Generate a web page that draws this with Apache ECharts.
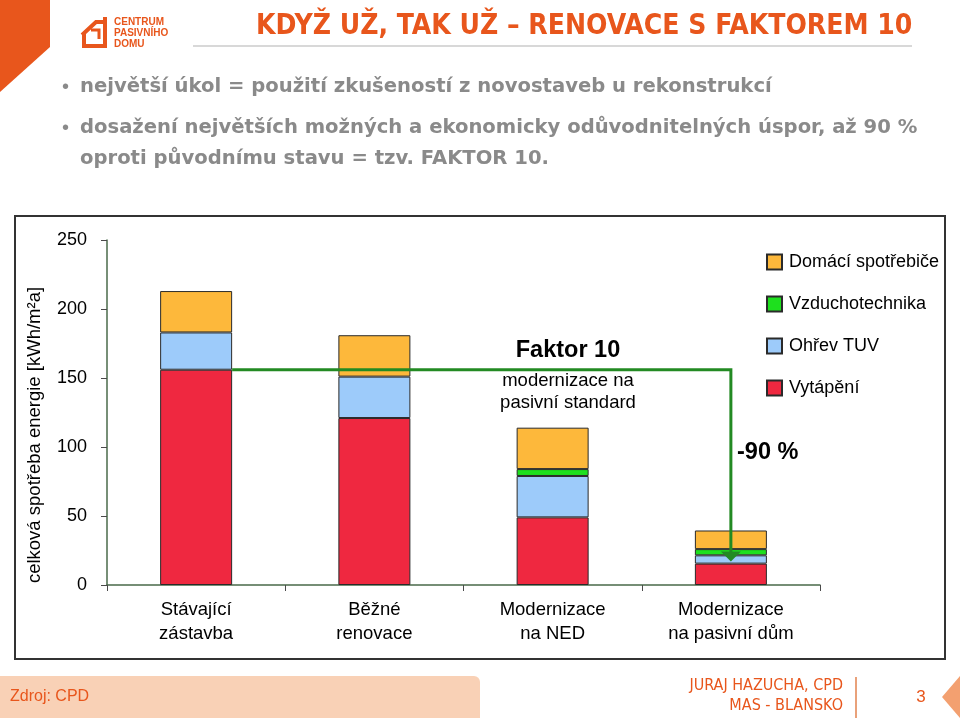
<!DOCTYPE html>
<html>
<head>
<meta charset="utf-8">
<script src="https://cdn.jsdelivr.net/npm/echarts@6/dist/echarts.min.js"></script>
<style>
html,body{margin:0;padding:0;background:#fff;}
#chart{width:960px;height:718px;}
</style>
</head>
<body>
<div id="chart"></div>
<script>
// ---- data ----
const categories = ['Stávající\nzástavba', 'Běžné\nrenovace', 'Modernizace\nna NED', 'Modernizace\nna pasivní dům'];
const seriesNames = ['Vytápění', 'Ohřev TUV', 'Vzduchotechnika', 'Domácí spotřebiče'];
const vytapeni = [156, 121, 49, 15.5];
const ohrevTUV = [27, 30, 30, 6];
const vzduchotechnika = ['-', '-', 5, 4.5];
const domaciSpotrebice = [30, 30, 30, 13.5];
const yTicks = [0, 50, 100, 150, 200, 250];
const arrowStartValue = 156;   // level of the "Faktor 10" line
const arrowTipValue = 17;      // where the -90 % arrow ends
const legendOrder = ['Domácí spotřebiče', 'Vzduchotechnika', 'Ohřev TUV', 'Vytápění'];

const colors = { 'Vytápění': '#EF2840', 'Ohřev TUV': '#9DCBFA', 'Vzduchotechnika': '#1EE01E', 'Domácí spotřebiče': '#FDB83B' };
const seriesData = [vytapeni, ohrevTUV, vzduchotechnika, domaciSpotrebice];
const BAR_W = 72;
const GREEN = '#238A23';
const ORANGE = '#E8561C';
const FONT = '"Liberation Sans", Arial, sans-serif';
const BULLET_FONT = '"DejaVu Sans", sans-serif';

const chart = echarts.init(document.getElementById('chart'), null, { renderer: 'canvas' });

const bars = seriesNames.map((name, i) => ({
  name: name,
  type: 'bar',
  stack: 'total',
  barWidth: BAR_W,
  data: seriesData[i],
  itemStyle: { color: colors[name], borderColor: '#2a2a2a', borderWidth: 1 },
  emphasis: { disabled: true },
  z: 2
}));

const arrowSeries = {
  type: 'custom',
  name: 'faktor',
  data: [[0, arrowStartValue]],
  z: 5,
  silent: true,
  renderItem: function (params, api) {
    const start = api.coord([0, arrowStartValue]);
    const corner = api.coord([3, arrowStartValue]);
    const tip = api.coord([3, arrowTipValue]);
    const half = BAR_W / 2;
    return {
      type: 'group',
      children: [
        { type: 'polyline', shape: { points: [[start[0] + half, start[1]], [corner[0], corner[1]], [tip[0], tip[1] - 8]] },
          style: { stroke: GREEN, lineWidth: 3, fill: null } },
        { type: 'polygon', shape: { points: [[tip[0] - 10, tip[1] - 10], [tip[0] + 10, tip[1] - 10], [tip[0], tip[1]]] },
          style: { fill: GREEN } }
      ]
    };
  }
};

const option = {
  backgroundColor: '#ffffff',
  animation: false,
  textStyle: { fontFamily: FONT },
  grid: { left: 107, right: 140, top: 240, bottom: 133, containLabel: false },
  legend: {
    data: legendOrder,
    orient: 'vertical',
    left: 761,
    top: 248,
    itemWidth: 15,
    itemHeight: 15,
    itemGap: 24,
    icon: 'rect',
    selectedMode: false,
    textStyle: { fontSize: 18, color: '#000', fontFamily: FONT, padding: [0, 0, 0, 2] }
  },
  xAxis: {
    type: 'category',
    data: categories,
    axisLine: { lineStyle: { color: '#4a6a4a', width: 1.5 } },
    axisTick: { show: true, length: 6, lineStyle: { color: '#4a4a4a' } },
    axisLabel: { interval: 0, fontSize: 18.5, lineHeight: 24, color: '#000', margin: 13, fontFamily: FONT }
  },
  yAxis: {
    type: 'value',
    min: yTicks[0],
    max: yTicks[yTicks.length - 1],
    interval: 50,
    splitLine: { show: false },
    axisLine: { show: true, lineStyle: { color: '#4a6a4a', width: 1.5 } },
    axisTick: { show: true, length: 6, lineStyle: { color: '#4a4a4a' } },
    axisLabel: { fontSize: 18, color: '#000', margin: 20, fontFamily: FONT, padding: [0, 0, 8, 0] }
  },
  series: bars.concat([arrowSeries]),
  graphic: [
    // chart frame
    { type: 'rect', shape: { x: 15, y: 216, width: 930, height: 443 }, style: { fill: null, stroke: '#333', lineWidth: 2 }, z: -1 },
    // y axis title
    { type: 'text', x: 35, y: 435, rotation: Math.PI / 2,
      style: { text: 'celková spotřeba energie [kWh/m²a]', fontSize: 18.5, fontFamily: FONT, fill: '#000', align: 'center', verticalAlign: 'middle' } },
    // annotations
    { type: 'text', x: 568, y: 351, style: { text: 'Faktor 10', fontSize: 23.5, fontWeight: 'bold', fontFamily: FONT, fill: '#000', align: 'center', verticalAlign: 'middle' } },
    { type: 'text', x: 568, y: 392, style: { text: 'modernizace na\npasivní standard', fontSize: 18.5, lineHeight: 22, fontFamily: FONT, fill: '#000', align: 'center', verticalAlign: 'middle' } },
    { type: 'text', x: 737, y: 453, style: { text: '-90 %', fontSize: 23.5, fontWeight: 'bold', fontFamily: FONT, fill: '#000', align: 'left', verticalAlign: 'middle' } },

    // slide decoration: orange corner shape
    { type: 'polygon', shape: { points: [[0, 0], [50, 0], [50, 47], [0, 92]] }, style: { fill: ORANGE } },
    // logo
    { type: 'polyline', shape: { points: [[84, 33], [84, 46], [105, 46], [105, 17]] }, style: { stroke: ORANGE, lineWidth: 4, fill: null } },
    { type: 'polyline', shape: { points: [[82, 35], [96, 22], [103, 22]] }, style: { stroke: ORANGE, lineWidth: 4, fill: null } },
    { type: 'polyline', shape: { points: [[91, 30], [99, 30], [99, 39]] }, style: { stroke: ORANGE, lineWidth: 3, fill: null } },
    { type: 'text', x: 114, y: 17, style: { text: 'CENTRUM\nPASIVNÍHO\nDOMU', fontSize: 10, lineHeight: 11, fontWeight: 'bold', fontFamily: FONT, fill: ORANGE } },
    // title
    { type: 'text', x: 256, y: 27, style: { text: 'KDYŽ UŽ, TAK UŽ – RENOVACE S FAKTOREM 10', fontSize: 28, fontWeight: 'bold', fontFamily: '"Liberation Sans Narrow", "DejaVu Sans Condensed", Arial, sans-serif', fill: ORANGE, verticalAlign: 'middle' } },
    { type: 'line', shape: { x1: 193, y1: 46, x2: 912, y2: 46 }, style: { stroke: '#d8d8d8', lineWidth: 2 } },
    // bullets
    { type: 'text', x: 62, y: 87, style: { text: '•', fontSize: 20, fontFamily: FONT, fill: '#8a8a8a', verticalAlign: 'middle' } },
    { type: 'text', x: 80, y: 87, style: { text: 'největší úkol = použití zkušeností z novostaveb u rekonstrukcí', fontSize: 19.6, fontWeight: 'bold', fontFamily: BULLET_FONT, fill: '#8a8a8a', verticalAlign: 'middle' } },
    { type: 'text', x: 62, y: 128, style: { text: '•', fontSize: 20, fontFamily: FONT, fill: '#8a8a8a', verticalAlign: 'middle' } },
    { type: 'text', x: 80, y: 128, style: { text: 'dosažení největších možných a ekonomicky odůvodnitelných úspor, až 90 %', fontSize: 19.6, fontWeight: 'bold', fontFamily: BULLET_FONT, fill: '#8a8a8a', verticalAlign: 'middle' } },
    { type: 'text', x: 80, y: 159, style: { text: 'oproti původnímu stavu = tzv. FAKTOR 10.', fontSize: 19.6, fontWeight: 'bold', fontFamily: BULLET_FONT, fill: '#8a8a8a', verticalAlign: 'middle' } },
    // footer
    { type: 'rect', shape: { x: -10, y: 676, width: 490, height: 60, r: 6 }, style: { fill: '#F9D1B6' } },
    { type: 'text', x: 10, y: 697, style: { text: 'Zdroj: CPD', fontSize: 16, fontFamily: FONT, fill: ORANGE, verticalAlign: 'middle' } },
    { type: 'text', x: 843, y: 686, style: { text: 'JURAJ HAZUCHA, CPD', fontSize: 16, fontFamily: '"Liberation Sans Narrow", "DejaVu Sans Condensed", Arial, sans-serif', fill: ORANGE, align: 'right', verticalAlign: 'middle' } },
    { type: 'text', x: 843, y: 706, style: { text: 'MAS - BLANSKO', fontSize: 16, fontFamily: '"Liberation Sans Narrow", "DejaVu Sans Condensed", Arial, sans-serif', fill: ORANGE, align: 'right', verticalAlign: 'middle' } },
    { type: 'line', shape: { x1: 856, y1: 677, x2: 856, y2: 718 }, style: { stroke: '#E9A17A', lineWidth: 2 } },
    { type: 'text', x: 921, y: 697, style: { text: '3', fontSize: 17, fontFamily: FONT, fill: ORANGE, align: 'center', verticalAlign: 'middle' } },
    { type: 'polygon', shape: { points: [[960, 676], [942, 697], [960, 718]] }, style: { fill: '#F3A070' } }
  ]
};

chart.setOption(option);
</script>
</body>
</html>
